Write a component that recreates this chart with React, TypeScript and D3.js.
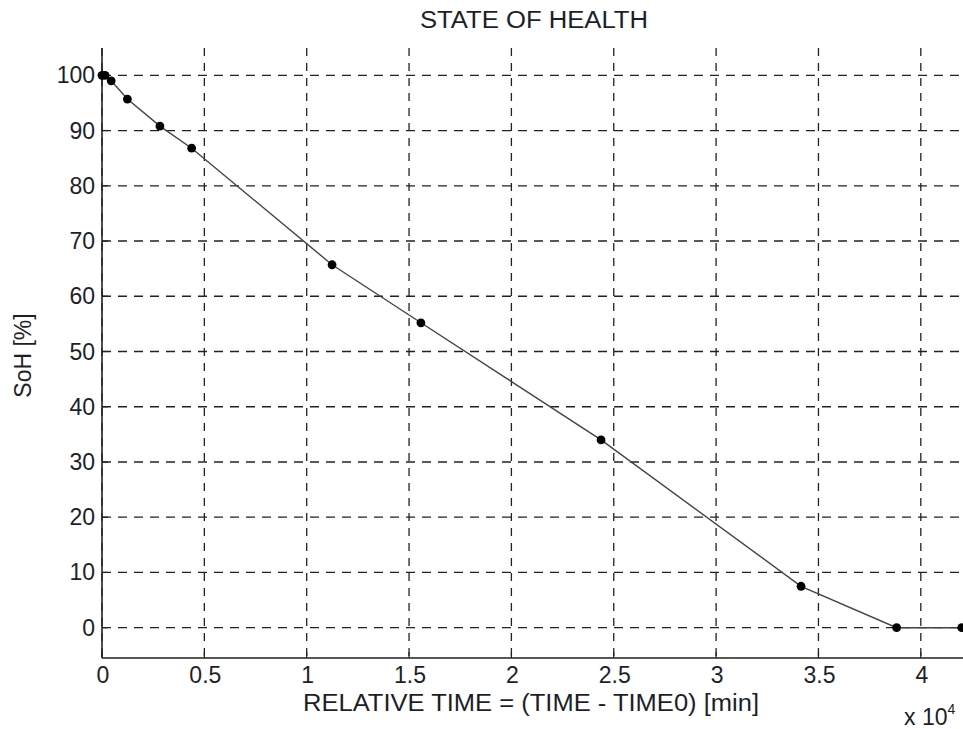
import React from "react";
import * as d3 from "d3";

const timeMin = [0, 150, 450, 1240, 2830, 4380, 11240, 15580, 24380, 34150, 38820, 42000];
const sohPct = [100, 100, 99.0, 95.7, 90.8, 86.8, 65.7, 55.2, 34.0, 7.5, 0, 0];
const xTicks = [0, 5000, 10000, 15000, 20000, 25000, 30000, 35000, 40000];
const xTickLabels = ["0", "0.5", "1", "1.5", "2", "2.5", "3", "3.5", "4"];
const yTicks = [0, 10, 20, 30, 40, 50, 60, 70, 80, 90, 100];

const W = 963;
const H = 729;
const left = 102;
const top = 48;
const bottom = 658;

export default function App() {
  const x = d3.scaleLinear().domain([0, 10000]).range([left, left + 204.7]);
  const y = d3.scaleLinear().domain([0, 100]).range([627.7, 75.3]);
  const line = d3
    .line<number>()
    .x((_, i) => x(timeMin[i]))
    .y((d) => y(d));
  const font = "'Liberation Sans', Arial, sans-serif";
  const fs = 23;
  const col = "#1e1e28";
  return (
    <svg
      width={W}
      height={H}
      style={{ position: "absolute", left: 0, top: 0, background: "#fff" }}
      fontFamily={font}
    >
      <rect x={0} y={0} width={W} height={H} fill="#fff" />
      {/* grid */}
      {xTicks.map((t) => (
        <line
          key={"gx" + t}
          x1={x(t)}
          x2={x(t)}
          y1={top}
          y2={bottom}
          stroke="#222"
          strokeWidth={1.3}
          strokeDasharray="8,7"
        />
      ))}
      {yTicks.map((t) => (
        <line
          key={"gy" + t}
          x1={left}
          x2={W}
          y1={y(t)}
          y2={y(t)}
          stroke="#222"
          strokeWidth={1.3}
          strokeDasharray="9,7"
        />
      ))}
      {/* axes */}
      <line x1={left} x2={left} y1={top} y2={bottom} stroke="#222" strokeWidth={1.6} />
      <line x1={left} x2={W} y1={bottom} y2={bottom} stroke="#222" strokeWidth={1.6} />
      {xTicks.map((t) => (
        <line key={"tx" + t} x1={x(t)} x2={x(t)} y1={bottom} y2={bottom - 6} stroke="#222" strokeWidth={1.2} />
      ))}
      {yTicks.map((t) => (
        <line key={"ty" + t} x1={left} x2={left + 6} y1={y(t)} y2={y(t)} stroke="#222" strokeWidth={1.2} />
      ))}
      {/* tick labels */}
      {xTicks.map((t, i) => (
        <text key={"lx" + t} x={x(t) + 1} y={683} textAnchor="middle" fontSize={fs} fill={col}>
          {xTickLabels[i]}
        </text>
      ))}
      {yTicks.map((t) => (
        <text key={"ly" + t} x={left - 7} y={y(t) + 8} textAnchor="end" fontSize={fs} fill={col}>
          {t}
        </text>
      ))}
      {/* data */}
      <path d={line(sohPct) || ""} fill="none" stroke="#444" strokeWidth={1.4} />
      {sohPct.map((v, i) => (
        <circle key={"p" + i} cx={x(timeMin[i])} cy={y(v)} r={4.4} fill="#000" />
      ))}
      {/* labels */}
      <text
        x={420}
        y={28}
        fontSize={fs}
        fill={col}
        textLength={228}
        lengthAdjust="spacingAndGlyphs"
      >
        STATE OF HEALTH
      </text>
      <text
        x={303}
        y={711}
        fontSize={fs}
        fill={col}
        textLength={456}
        lengthAdjust="spacingAndGlyphs"
      >
        RELATIVE TIME = (TIME - TIME0) [min]
      </text>
      <text
        transform={`translate(31,${y(50) + 4}) rotate(-90)`}
        textAnchor="middle"
        fontSize={fs}
        fill={col}
      >
        SoH [%]
      </text>
      <text x={904} y={725} fontSize={fs} fill={col}>
        x 10
        <tspan dy={-11} fontSize={14}>4</tspan>
      </text>
    </svg>
  );
}
